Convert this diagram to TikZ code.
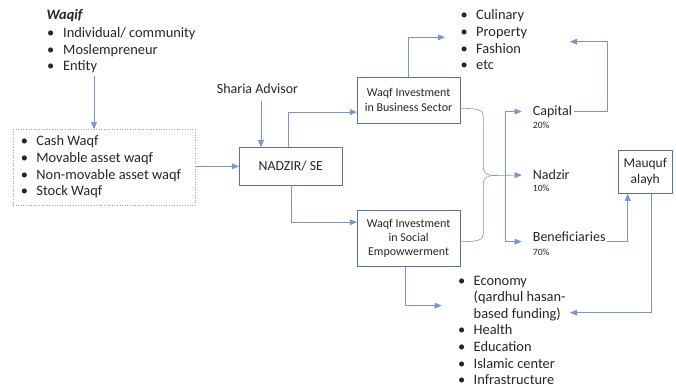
\documentclass[tikz,border=0pt]{standalone}
\usepackage{fontspec}
\setmainfont{Carlito}
\usetikzlibrary{arrows}
\definecolor{boxblue}{RGB}{84,114,164}
\definecolor{linkblue}{RGB}{118,150,212}
\definecolor{ink}{RGB}{38,38,38}
\newcommand{\itm}[1]{\textbullet & #1\\}
\newcommand{\cnt}[1]{& #1\\}

\begin{document}
\begin{tikzpicture}[x=1pt, y=-1pt, >=triangle 45, every node/.style={text=ink},
  txt/.style={font=\fontsize{14.4}{16.6}\selectfont, inner sep=0pt},
  lbl/.style={font=\fontsize{14}{16}\selectfont, inner ysep=0pt, inner xsep=1.5pt, text height=9pt, text depth=0pt},
  pct/.style={font=\fontsize{9.6}{11}\selectfont, inner sep=0pt},
  box/.style={draw=boxblue, line width=0.8pt, align=center, inner sep=0pt},
  link/.style={draw=linkblue, line width=0.6pt}]
\useasboundingbox (0,0) rectangle (676,387);

% sources of the waqf
\node[txt, anchor=base west] (waqif) at (46.5,20) {\textbf{\textit{Waqif}}};
\node[txt, anchor=base west] (waqiflist) at (47,37.5)
  {\begin{tabular}[t]{@{}p{16pt}@{}l@{}}
   \itm{Individual/ community}
   \itm{Moslempreneur}
   \itm{Entity}
   \end{tabular}};
\node[txt, draw=gray!70, dotted, line width=0.6pt, minimum width=182pt, minimum height=76pt]
  (assets) at (104,167.5)
  {\begin{tabular}{@{}p{15.5pt}@{}l@{\hspace{6pt}}}
   \itm{Cash Waqf}
   \itm{Movable asset waqf}
   \itm{Non-movable asset waqf}
   \itm{Stock Waqf}
   \end{tabular}};

% manager
\node[txt, font=\fontsize{14}{16}\selectfont, anchor=base] (sharia) at (257.5,93.3) {Sharia Advisor};
\node[box, font=\fontsize{13.8}{16}\selectfont, minimum width=103pt, minimum height=37.3pt]
  (nadzir) at (290.8,166.3) {NADZIR/ SE};
\node[box, font=\fontsize{12}{14.4}\selectfont, minimum width=102.7pt, minimum height=46.3pt]
  (business) at (408.6,100.1) {Waqf Investment\\in Business Sector};
\node[box, font=\fontsize{12}{14.2}\selectfont, minimum width=102.7pt, minimum height=56.5pt]
  (social) at (408.6,238.2) {Waqf Investment\\in Social\\Empowwerment};

% sectors
\node[txt, anchor=base west] (sectors) at (460.5,20)
  {\begin{tabular}[t]{@{}p{15.5pt}@{}l@{}}
   \itm{Culinary}
   \itm{Property}
   \itm{Fashion}
   \itm{etc}
   \end{tabular}};
\node[txt, anchor=base west] (programs) at (458,285)
  {\begin{tabular}[t]{@{}p{15.5pt}@{}l@{}}
   \itm{Economy}
   \cnt{(qardhul hasan-}
   \cnt{based funding)}
   \itm{Health}
   \itm{Education}
   \itm{Islamic center}
   \itm{Infrastructure}
   \end{tabular}};

% shares of the return
\node[lbl, anchor=base west] (capital) at (531.2,116) {Capital};
\node[pct, anchor=base west] (p20) at (532.7,128.3) {20\%};
\node[lbl, anchor=base west] (nadzirpart) at (531.2,179.5) {Nadzir};
\node[pct, anchor=base west] (p10) at (532.7,191.7) {10\%};
\node[lbl, anchor=base west] (benef) at (531.2,241.7) {Beneficiaries};
\node[pct, anchor=base west] (p70) at (532.7,255) {70\%};
\node[box, minimum width=53.7pt, minimum height=43.3pt, font=\fontsize{13.5}{16}\selectfont]
  (mauquf) at (645.2,171.7) {Mauquf\\alayh};

\coordinate (w1) at ([xshift=47pt]waqiflist.south west);
\coordinate (culin) at (445,37.3);
\coordinate (culret) at (570,41.7);
\coordinate (socin) at (441.7,305.7);
\coordinate (socret) at (570,312.7);
\coordinate (tip) at (495,175.5);
\coordinate (fork) at ([xshift=-25.5pt,yshift=-4.5pt]benef.west);

% connectors
\draw[link,->] (w1) -- (w1 |- assets.north);
\draw[link,->] (assets.east |- nadzir.west) -- (nadzir.west);
\draw[link,->] ([xshift=3.5pt,yshift=-7pt]sharia.south) -- ([xshift=3.5pt]sharia.south |- nadzir.north);
\draw[link,->] ([xshift=-3pt]nadzir.north) |- ([yshift=-12pt]business.west);
\draw[link,->] (nadzir.south) |- ([yshift=16pt]social.west);
\draw[link,->] (business.north) |- (culin);
\draw[link,->] ([xshift=-3pt]social.south) |- (socin);

% brace joining both investments
\draw[link] ([yshift=-8.2pt]business.east) .. controls (478,108.3) and (483.3,110) .. (483.3,116)
  -- (483.3,166) .. controls (483.3,173) and (486,175.5) .. (tip);
\draw[link] ([yshift=-3.5pt]social.east) .. controls (478,241.7) and (483.3,240) .. (483.3,234)
  -- (483.3,185) .. controls (483.3,178) and (486,175.5) .. (tip);
\draw[link,->] (tip) -- ([xshift=-9.5pt]nadzirpart.west);
\draw[link,->] (fork) |- ([xshift=-9.5pt]capital.west);
\draw[link,->] (fork) -- ([xshift=-9.5pt,yshift=-4.5pt]benef.west);

\draw[link,->] (capital.east) -- ++(34,0) |- (culret);
\draw[link,->] ([yshift=-4.5pt]benef.east) -| ([xshift=-17.5pt]mauquf.south);
\draw[link,->] ([xshift=6.5pt]mauquf.south) |- (socret);
\end{tikzpicture}
\end{document}
